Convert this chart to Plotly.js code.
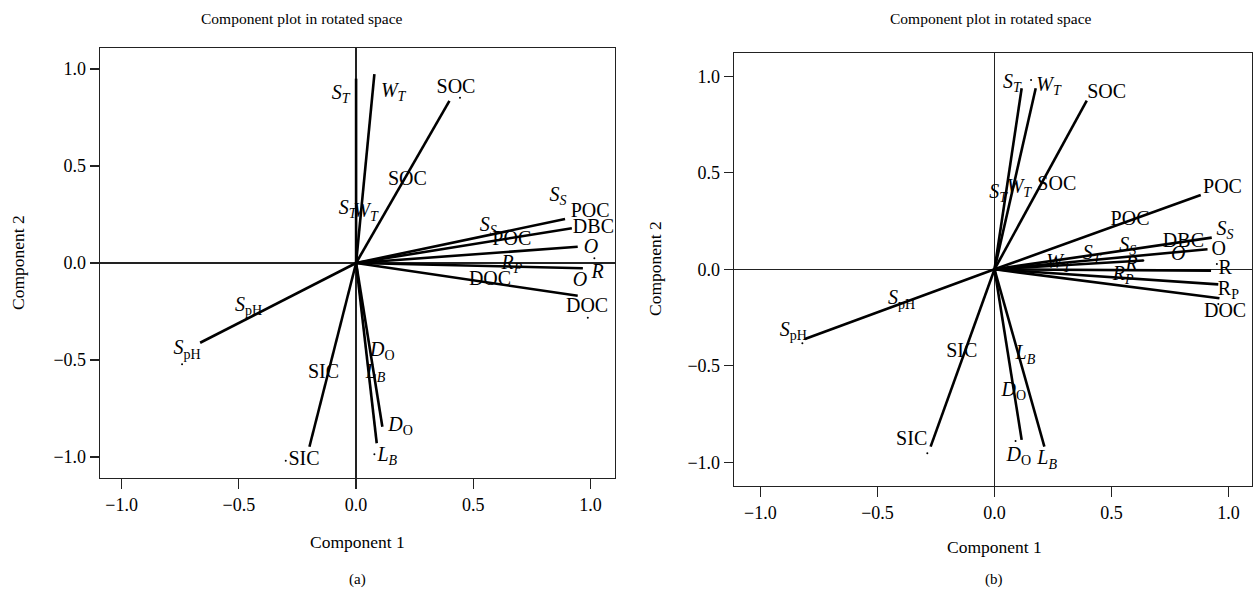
<!DOCTYPE html>
<html>
<head>
<meta charset="utf-8">
<script src="https://cdn.plot.ly/plotly-3.0.1.min.js"></script>
<style>html,body{margin:0;padding:0;background:#fff;}#chart{width:1257px;height:597px;}</style>
</head>
<body>
<div id="chart"></div>
<script>
// ---------- Panel (a) data ----------
const aLineNames = ["S_T","W_T","SOC","POC","DBC","O","R","DOC","S_pH","SIC","D_O","L_B"];
const aLineX = [0.000, 0.078, 0.398, 0.891, 0.920, 0.945, 0.967, 0.945, -0.665, -0.199, 0.112, 0.088];
const aLineY = [0.950, 0.973, 0.835, 0.227, 0.179, 0.084, -0.027, -0.169, -0.411, -0.947, -0.844, -0.929];

const aEndText = ["<i>S</i><sub><i>T</i></sub>","<i>W</i><sub><i>T</i></sub>","SOC","<i>S</i><sub><i>S</i></sub>","POC","DBC","<i>O</i>","<i>R</i>","<i>O</i>","DOC","<i>S</i><sub>pH</sub>","SIC","<i>D</i><sub>O</sub>","<i>L</i><sub><i>B</i></sub>"];
const aEndX = [-0.066, 0.158, 0.426, 0.861, 0.998, 1.012, 1.002, 1.030, 0.955, 0.985, -0.721, -0.222, 0.190, 0.133];
const aEndY = [0.870, 0.880, 0.902, 0.345, 0.262, 0.180, 0.078, -0.052, -0.093, -0.227, -0.445, -1.015, -0.840, -0.995];

const aMidText = ["<i>S</i><sub><i>T</i></sub>","<i>W</i><sub><i>T</i></sub>","SOC","<i>S</i><sub><i>S</i></sub>","POC","<i>R</i><sub><i>P</i></sub>","DOC","<i>S</i><sub>pH</sub>","SIC","<i>D</i><sub>O</sub>","<i>L</i><sub><i>B</i></sub>"];
const aMidX = [-0.036, 0.040, 0.219, 0.564, 0.664, 0.664, 0.571, -0.459, -0.139, 0.112, 0.083];
const aMidY = [0.280, 0.262, 0.428, 0.192, 0.119, -0.005, -0.088, -0.222, -0.569, -0.452, -0.565];

const aDotX = [0.443, 1.016, 0.988, -0.742, -0.300, 0.078];
const aDotY = [0.851, 0.024, -0.282, -0.522, -1.019, -0.986];

// ---------- Panel (b) data ----------
const bLineNames = ["S_T","W_T","SOC","POC","S_S","O","DBC","R","R_P","DOC","S_pH","SIC","D_O","L_B"];
const bLineX = [0.116, 0.176, 0.394, 0.881, 0.928, 0.910, 0.636, 0.925, 0.956, 0.961, -0.810, -0.273, 0.116, 0.213];
const bLineY = [0.938, 0.938, 0.874, 0.385, 0.164, 0.104, 0.046, -0.007, -0.078, -0.150, -0.361, -0.919, -0.884, -0.919];

const bEndText = ["<i>S</i><sub><i>T</i></sub>","<i>W</i><sub><i>T</i></sub>","SOC","POC","<i>S</i><sub><i>S</i></sub>","O","R","R<sub>P</sub>","DOC","<i>S</i><sub>pH</sub>","SIC","<i>D</i><sub>O</sub>","<i>L</i><sub><i>B</i></sub>"];
const bEndX = [0.074, 0.231, 0.479, 0.974, 0.985, 0.958, 0.985, 0.999, 0.985, -0.860, -0.354, 0.104, 0.225];
const bEndY = [0.966, 0.950, 0.912, 0.420, 0.205, 0.100, 0.000, -0.105, -0.220, -0.318, -0.884, -0.968, -0.985];

const bMidText = ["<i>S</i><sub><i>T</i></sub>","<i>W</i><sub><i>T</i></sub>","SOC","POC","<i>S</i><sub><i>S</i></sub>","DBC","<i>O</i>","<i>S</i><sub><i>T</i></sub>","<i>W</i><sub><i>T</i></sub>","<i>R</i>","<i>R</i><sub><i>P</i></sub>","<i>S</i><sub>pH</sub>","SIC","<i>L</i><sub><i>B</i></sub>","<i>D</i><sub>O</sub>"];
const bMidX = [0.016, 0.104, 0.266, 0.579, 0.569, 0.807, 0.785, 0.415, 0.273, 0.586, 0.550, -0.397, -0.140, 0.132, 0.082];
const bMidY = [0.396, 0.422, 0.437, 0.255, 0.120, 0.143, 0.074, 0.077, 0.033, 0.022, -0.027, -0.156, -0.427, -0.441, -0.631];

const bDotX = [0.156, 0.636, 0.950, 0.956, -0.821, -0.287, 0.090];
const bDotY = [0.981, 0.046, 0.027, -0.180, -0.383, -0.953, -0.890];

const tickVals = [-1, -0.5, 0, 0.5, 1];
const tickText = ["\u22121.0", "\u22120.5", "0.0", "0.5", "1.0"];

// ---------- Helpers ----------
function spokes(xs, ys) {
  const X = [], Y = [];
  for (let i = 0; i < xs.length; i++) { X.push(0, xs[i], null); Y.push(0, ys[i], null); }
  return {X, Y};
}
const FONT = "Liberation Serif, Times New Roman, serif";
const labelFont = {family: FONT, size: 20, color: "#000"};

function panelTraces(lx, ly, et, ex, ey, mt, mx, my, dx, dy, xa, ya) {
  const s = spokes(lx, ly);
  return [
    {type: "scatter", mode: "lines", x: s.X, y: s.Y, xaxis: xa, yaxis: ya,
     line: {color: "#000", width: 2.6}, hoverinfo: "skip", showlegend: false},
    {type: "scatter", mode: "markers", x: dx, y: dy, xaxis: xa, yaxis: ya,
     marker: {color: "#000", size: 2}, hoverinfo: "skip", showlegend: false},
    {type: "scatter", mode: "text", x: mx, y: my, text: mt, xaxis: xa, yaxis: ya,
     textposition: "middle center", textfont: labelFont, hoverinfo: "skip", showlegend: false},
    {type: "scatter", mode: "text", x: ex, y: ey, text: et, xaxis: xa, yaxis: ya,
     textposition: "middle center", textfont: labelFont, hoverinfo: "skip", showlegend: false}
  ];
}

const data = [].concat(
  panelTraces(aLineX, aLineY, aEndText, aEndX, aEndY, aMidText, aMidX, aMidY, aDotX, aDotY, "x", "y"),
  panelTraces(bLineX, bLineY, bEndText, bEndX, bEndY, bMidText, bMidX, bMidY, bDotX, bDotY, "x2", "y2")
);

const tickFont = {family: FONT, size: 18, color: "#000"};
function axis(domain, range, anchor, len) {
  return {domain, range, anchor, tickvals: tickVals, ticktext: tickText,
    ticks: "outside", ticklen: len, tickwidth: 1.2, tickcolor: "#222",
    showline: true, mirror: true, linecolor: "#222", linewidth: 1.3,
    zeroline: true, zerolinecolor: "#222", zerolinewidth: 1.2, showgrid: false,
    tickfont: tickFont, fixedrange: true};
}

const W = 1257, H = 597;
function note(text, px, py, size, angle) {
  return {text, xref: "paper", yref: "paper", x: px / W, y: (H - py) / H, showarrow: false,
    textangle: angle || 0, font: {family: FONT, size, color: "#000"}, xanchor: "center", yanchor: "middle"};
}
const layout = {
  width: W, height: H,
  margin: {l: 0, r: 0, t: 0, b: 0},
  paper_bgcolor: "#fff", plot_bgcolor: "#fff",
  showlegend: false,
  xaxis: axis([100 / W, 615 / W], [-1.092, 1.104], "y", 10),
  yaxis: axis([(H - 478) / H, (H - 48) / H], [-1.108, 1.108], "x", 9),
  xaxis2: axis([734 / W, 1252 / W], [-1.113, 1.100], "y2", 10),
  yaxis2: axis([(H - 486) / H, (H - 53) / H], [-1.123, 1.121], "x2", 9),
  annotations: [
    note("Component plot in rotated space", 302, 18, 15.5),
    note("Component plot in rotated space", 991, 19, 15.5),
    note("Component 1", 357, 542, 17.5),
    note("Component 1", 994, 547, 17.5),
    note("Component 2", 18, 263, 17.5, -90),
    note("Component 2", 655, 269, 17.5, -90),
    note("(a)", 357, 579, 15),
    note("(b)", 994, 579, 15)
  ]
};

Plotly.newPlot("chart", data, layout, {displayModeBar: false, staticPlot: true});
</script>
</body>
</html>
